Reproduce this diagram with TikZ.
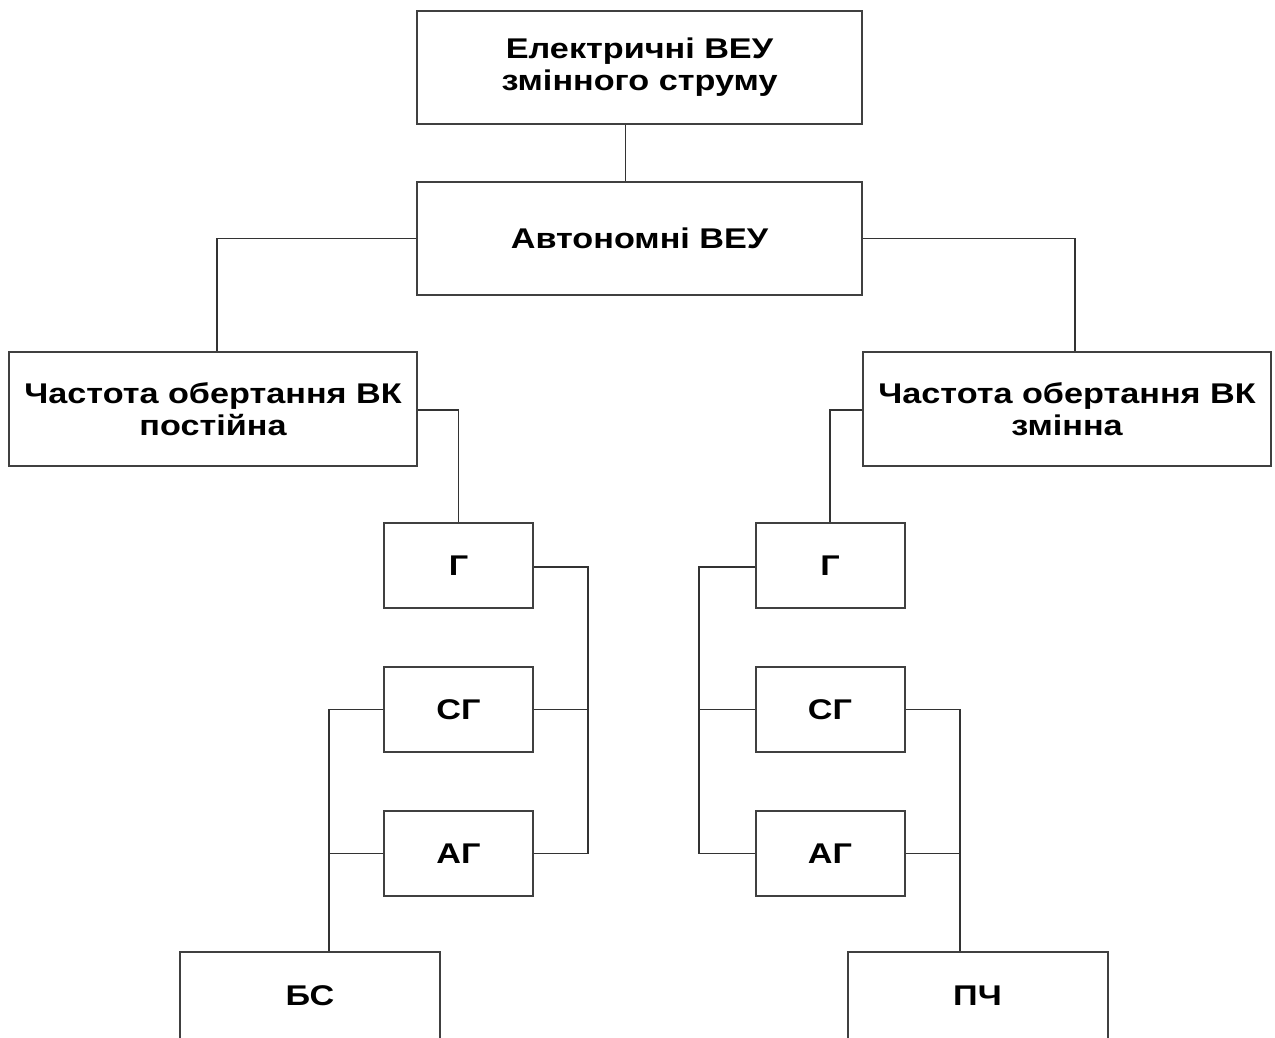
\documentclass[tikz,border=0pt]{standalone}
\usepackage{fontspec}
\setmainfont{Liberation Sans}[FakeStretch=1.2]
\usetikzlibrary{positioning}
\tikzset{blok/.style={draw=black!75, line width=2pt, inner sep=0pt, align=center, font=\bfseries\fontsize{28.5}{32.5}\selectfont},
	big/.style={blok, minimum width=445pt, minimum height=113pt},
	side/.style={blok, minimum width=408pt, minimum height=114pt},
	small/.style={blok, minimum width=149pt, minimum height=85pt},
	low/.style={blok, minimum width=260pt, minimum height=88pt},
	link/.style={draw=black!80, line width=1.7pt}}

\begin{document}
\begin{tikzpicture}[x=1pt, y=-1pt, node distance=57pt]
	\useasboundingbox (0,0) rectangle (1275,1037);
	\node[big] (el) at (639.5,67) {Електричні ВЕУ\\змінного струму};
	\node[big] (avt) at (639.5,238.5) {Автономні ВЕУ};
	\node[side] (const) at (213,409) {Частота обертання ВК\\постійна};
	\node[side] (var) at (1067,409) {Частота обертання ВК\\змінна};
	\node[small] (g1) at (458.5,565.5) {Г};
	\node[small] (sg1) [below=of g1] {СГ};
	\node[small] (ag1) [below=of sg1] {АГ};
	\node[small] (g2) at (830,565.5) {Г};
	\node[small] (sg2) [below=of g2] {СГ};
	\node[small] (ag2) [below=of sg2] {АГ};
	\node[low] (bs) at (310,996) {БС};
	\node[low] (pch) at (977.5,996) {ПЧ};
	\coordinate (l1) at (217,0);
	\coordinate (r1) at (1075,0);
	\coordinate (b1) at (329,0);
	\coordinate (b2) at (588,0);
	\coordinate (b3) at (699,0);
	\coordinate (b4) at (960,0);
	\path[link]
		([xshift=-14pt]el.south) -- ([xshift=-14pt]avt.north)
		(avt.west) -| (l1 |- const.north)
		(avt.east) -| (r1 |- var.north)
		([yshift=-1pt]const.east) -| (g1.north)
		([yshift=-1pt]var.west) -| (g2.north)
		([yshift=-1.5pt]g1.east) -| (b2 |- ag1.east) -- (ag1.east)
		(sg1.east) -- (sg1.east -| b2)
		(sg1.west) -| (b1 |- bs.north)
		(ag1.west) -- (ag1.west -| b1)
		([yshift=-1.5pt]g2.west) -| (b3 |- ag2.west) -- (ag2.west)
		(sg2.west) -- (sg2.west -| b3)
		(sg2.east) -| (b4 |- pch.north)
		(ag2.east) -- (ag2.east -| b4)
		;
\end{tikzpicture}
\end{document}
